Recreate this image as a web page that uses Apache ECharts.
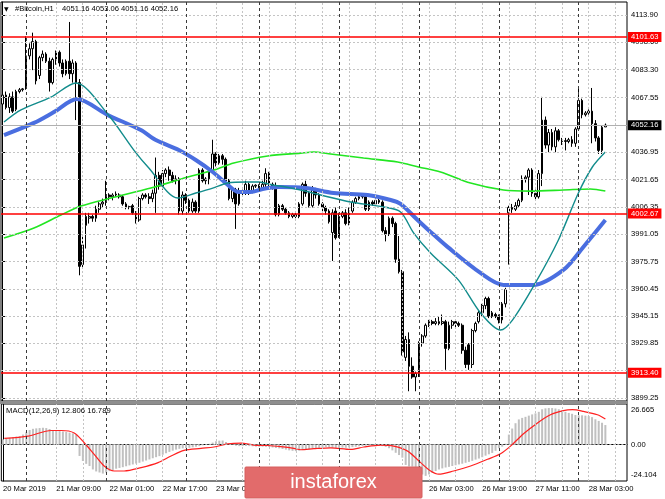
<!DOCTYPE html>
<html><head><meta charset="utf-8">
<script src="https://cdn.jsdelivr.net/npm/echarts@6/dist/echarts.min.js"></script>
<style>html,body{margin:0;padding:0;background:#fff}#c{width:665px;height:499px}</style>
</head><body><div id="c"></div>
<script>
// ---- DATA ----
// candles: [open, close, low, high]
const candles = [
[4064,4069,4060,4081],[4069,4062,4061,4071],[4062,4068,4059,4070],[4068,4060,4059,4071],[4061,4071,4060,4072],
[4071,4072,4070,4073],[4072,4072.5,4071,4073],[4073,4091,4072,4102],[4091,4095,4089,4098],[4095,4099,4083,4104],
[4099,4077,4075,4100],[4080,4090,4078,4091],[4090,4092,4088,4094],[4092,4088,4087,4093],[4088,4076,4071,4090],
[4076,4089,4075,4090],[4089,4093,4086,4094],[4093,4087,4085,4094],[4087,4081,4079,4089],[4081,4088,4080,4089],
[4088,4081,4078,4110],[4081,4087,4076,4089],[4087,4076,4055,4088],[4076,3973,3968,4078],[3974,3985,3972,3990],
[3996,4001,3983,4003],[4000,4001,3997,4003],[4001,4000,3998,4002],[4000,4005,3998,4007],[4005,4008,4003,4009],
[4008,4009,4006,4011],[4009,4013,4007,4021],[4013,4012,4010,4014],[4012,4013,4010,4014],[4013,4013.5,4012,4015],
[4013,4012,4011,4014],[4012,4008,4007,4013],[4008,4006,4005,4009],[4006,4006.5,4005,4007],[4007,4003,4002,4008],
[4003,3999,3997,4004],[3999,4011,3998,4012],[4011,4013,4010,4014],[4013,4012,4011,4014],[4012,4011,4008,4014],
[4011,4014,4009,4016],[4014,4024,4003,4034],[4024,4018,4016,4026],[4018,4025,4016,4027],[4025,4027,4023,4028],
[4027,4024,4021,4029],[4024,4021,4020,4026],[4021,4022,4019,4024],[4022,4004,4002,4023],[4004,4013,4002,4015],
[4013,4010,4008,4014],[4010,4004,4003,4011],[4004,4009,4003,4011],[4009,4004,4003,4010],[4004,4027,4003,4028],
[4027,4021,4020,4028],[4021,4022,4019,4023],[4022,4026,4019,4027],[4026,4036,4025,4044],[4036,4031,4029,4037],
[4031,4035,4030,4036],[4035,4033,4030,4036],[4033,4021,4020,4034],[4021,4011,4010,4022],[4011,4016,4009,4017],
[4016,4008,3994,4017],[4008,4015,4007,4017],[4015,4014,4012,4016],[4014,4019,4013,4021],[4019,4015,4013,4020],
[4015,4018,4014,4019],[4018,4018.5,4017,4019],[4018,4017,4016,4019],[4017,4019,4016,4021],[4019,4025,4016,4028],
[4025,4019,4017,4026],[4019,4018,4016,4020],[4018,4002,4001,4020],[4002,4007,4001,4008],[4007,4005,4004,4008],
[4005,4003,4002,4006],[4003,4001,4000,4004],[4001,4002,4000,4003],[4002,4001,4000,4003],[4001,4008,4000,4009],
[4008,4019,4007,4020],[4019,4014,4012,4021],[4014,4007,4006,4015],[4007,4016,4006,4018],[4016,4013,4011,4017],
[4013,4008,4007,4014],[4008,4006,4004,4009],[4006,4004,4002,4007],[4004,3998,3997,4005],[3992,4003,3976,4005],
[4004,3989,3988,4006],[3990,4001,3989,4003],[4001,4003,4000,4004],[4003,3997,3996,4005],[3997,4004,3996,4006],
[4004,4009,4003,4010],[4009,4011,4008,4012],[4011,4012,4010,4013],[4013,4012,4011,4014],[4012,4005,4004,4013],
[4005,4009,4004,4010],[4009,4008,4007,4010],[4008,4010,4007,4011],[4010,4009,4008,4011],[4009,3993,3992,4010],
[3993,3991,3987,3995],[3991,4000,3990,4001],[4000,3997,3995,4001],[3997,3977,3975,3998],[3977,3970,3969,3990],
[3970,3925,3923,3971],[3922,3932,3920,3934],[3932,3917,3903,3936],[3917,3911,3910,3922],[3911,3913,3903,3914],
[3913,3930,3911,3931],[3930,3934,3928,3935],[3934,3940,3933,3941],[3940,3942,3939,3943],[3942,3941,3940,3943],
[3941,3942,3940,3944],[3942,3941,3940,3945],[3941,3942,3940,3946],[3942,3927,3915,3943],[3927,3940,3926,3942],
[3940,3942,3938,3943],[3942,3941,3939,3943],[3941,3940,3939,3942],[3940,3926,3924,3941],[3926,3918,3916,3928],
[3929,3918,3915,3930],[3918,3937,3916,3938],[3937,3941,3936,3942],[3942,3947,3941,3948],[3947,3951,3945,3952],
[3951,3955,3949,3956],[3955,3945,3944,3956],[3945,3947,3944,3948],[3946,3945,3944,3947],[3945,3943,3941,3946],
[3943,3952,3941,3953],[3952,3960,3950,3961],[4003,4006,3974,4007],[4006,4005,4003,4008],[4005,4007,4004,4009],
[4007,4010,4006,4011],[4010,4022,4009,4024],[4022,4023,4020,4024],[4023,4027,4013,4028],[4027,4014,4012,4028],
[4014,4012,4010,4016],[4012,4025,4011,4027],[4025,4055,4018,4068],[4055,4041,4039,4057],[4041,4048,4037,4050],
[4048,4040,4038,4050],[4040,4049,4037,4051],[4049,4044,4043,4050],[4044,4043,4041,4045],[4043,4043.5,4038,4045],
[4043,4044,4042,4045],[4044,4042,4040,4046],[4042,4050,4040,4051],[4050,4066,4049,4074],[4066,4058,4056,4067],
[4058,4059,4057,4060],[4059,4060,4058,4061],[4060,4053,4042,4073],[4053,4045,4043,4055],[4045,4038,4036,4046],
[4038,4051,4036,4052],[4051.16,4052.16,4051.16,4053.06]
];
// moving averages: [bar index, price]
const tealMA = [[0.4,4053.9],[5.5,4060.7],[14.5,4067.9],[22,4075.8],[31.3,4059],[39.4,4038.2],[43.9,4028.1],[52.6,4011.3],[58,4014.1],[63.1,4016.9],[67.6,4019.7],[73,4020.3],[76.9,4020.3],[81.1,4018.6],[85,4017.5],[89.5,4015.8],[95.5,4013],[104.5,4009.1],[114.4,4006.3],[119.5,4003.5],[123.4,3991.8],[128.5,3980.5],[136.9,3965.3],[143.5,3946.9],[149.5,3937.3],[153.1,3942.9],[160,3963.7],[166.9,3987.8],[172.9,4014.1],[177.1,4028.7],[181,4037.1]];
const blueMA = [[0.4,4046.6],[9.4,4053.4],[15.4,4059.5],[22.3,4066.8],[31.6,4057.8],[41.5,4049.4],[46,4043.8],[52.9,4038.2],[58,4032.6],[63.1,4025.9],[67,4019.7],[70.9,4014.7],[74.5,4014.7],[78.1,4016.4],[82.9,4017.5],[91,4016.9],[99.4,4014.1],[109.6,4013],[116.5,4010.2],[119.5,4008],[124.6,3999],[128.5,3992.3],[133.6,3983.9],[143.5,3969.3],[150.4,3962.6],[159.4,3962.6],[168.4,3971],[174.4,3983.9],[181,3999]];
const greenMA = [[0.4,3988.9],[9.4,3994.5],[17.5,4001.8],[23.5,4006.8],[32.5,4011.3],[44.5,4016.9],[55.6,4023.1],[63.4,4027],[69.4,4030.9],[79.6,4034.9],[89.5,4036.5],[93.4,4037.1],[98.5,4036],[108.4,4033.7],[118.6,4031.5],[124.9,4028.7],[131.5,4025.9],[140.5,4019.7],[150.4,4015.8],[158.5,4015.2],[168.4,4015.8],[176.5,4016.4],[181,4015.2]];
const macdHist = [
3.3,3.8,4.3,4.8,5.2,5.5,6.5,8.0,9.5,10.3,
10.6,10.8,11.0,10.8,10.2,9.4,9.0,8.8,8.5,8.2,
7.8,7.3,6.5,-7.6,-10.9,-12.8,-14.2,-16.5,-17.8,-18.5,
-19.2,-18.5,-17.6,-16.8,-16.0,-15.5,-15.0,-14.4,-13.8,-13.2,
-12.6,-12.1,-11.3,-10.6,-9.9,-9.1,-8.4,-7.7,-6.8,-5.8,
-4.9,-4.1,-3.4,-2.9,-2.6,-2.4,-2.2,-1.9,-1.5,-1.1,
-0.6,-0.1,0.4,1.2,2.1,2.5,2.6,1.6,0.5,-0.3,
-0.8,-1.1,-1.1,-1.0,-1.1,-1.2,-1.4,-1.5,-1.5,-1.6,
-1.7,-2.0,-2.3,-2.6,-3.0,-3.4,-3.9,-4.2,-4.4,-4.1,
-3.7,-3.4,-3.1,-2.8,-2.6,-2.3,-2.0,-1.7,-2.0,-2.2,
-2.3,-2.2,-2.1,-2.2,-2.0,-1.8,-1.5,-1.2,-1.0,-0.8,
-0.6,-0.4,-0.5,-0.8,-1.1,-1.6,-2.5,-3.9,-5.5,-7.0,
-8.7,-13.5,-14.5,-14.6,-14.8,-18.5,-19.8,-20.7,-19.8,-18.8,
-17.5,-16.5,-15.8,-15.2,-14.8,-14.2,-13.7,-13.2,-12.7,-12.1,
-11.5,-10.8,-10.0,-9.3,-8.4,-7.4,-6.5,-5.6,-4.2,-2.5,
-1.5,0.5,6.5,10.5,14.0,16.5,17.5,18.2,19.0,19.8,
20.5,21.5,23.2,23.8,24.0,24.0,23.7,23.2,22.4,21.5,
20.8,20.2,19.4,19.2,19.2,19.0,18.7,18.0,16.6,15.5,
14.3,12.8
];
const macdSignal = [[0.4,4.0],[7.6,5.5],[14.5,9.2],[17.5,9.2],[21.4,7.6],[24.4,1.1],[27.4,-6.5],[30.4,-14.2],[33.4,-17.5],[36.4,-17.5],[41.5,-15.3],[46.6,-12],[50.5,-7.6],[54.4,-3.9],[59.5,-2.6],[63.4,-1.7],[67.6,0.4],[71.5,0.9],[75.4,-0.4],[79.6,-0.7],[83.5,-1.5],[87.4,-2.6],[89.5,-3.5],[93.4,-2.8],[98.5,-2.2],[104.5,-3.3],[108.4,-1.7],[113.5,-0.4],[117.4,-1.1],[121.6,-4.4],[125.5,-12],[128.5,-17.5],[130.9,-19.6],[135.4,-17.5],[140.5,-14.2],[145.6,-9.8],[149.5,-6.1],[152.5,-1.1],[156.4,7],[160.6,14.2],[164.5,19.6],[168.4,22.3],[171.1,22.9],[174.4,21.8],[178.6,19.6],[181,16.8]];
const priceGridValues = [4113.90,4098.60,4083.30,4067.55,4052.25,4036.95,4021.65,4006.35,3991.05,3975.75,3960.45,3945.15,3929.85,3914.55,3899.25];
const priceLabelValues = [4113.90,4098.60,4083.30,4067.55,4036.95,4021.65,4006.35,3991.05,3975.75,3960.45,3945.15,3929.85,3899.25];
const levelLines = [4101.63, 4002.67, 3913.40];
const lastPrice = 4052.16;
const macdTickValues = [26.665, 0, -24.104];
const macdTickLabels = ['26.665', '0.00', '-24.104'];
const macdParams = 'MACD(12,26,9)';
const macdLast = ['12.806', '16.789'];
const timeLabels = [[0,'20 Mar 2019'],[16,'21 Mar 09:00'],[32,'22 Mar 01:00'],[48,'22 Mar 17:00'],[64,'23 Mar 09:00'],[80,'24 Mar 03:00'],[96,'24 Mar 19:00'],[112,'25 Mar 11:00'],[128,'26 Mar 03:00'],[144,'26 Mar 19:00'],[160,'27 Mar 11:00'],[176,'28 Mar 03:00']];
const daySeparators = [7,31,55,77,101,125,149,173];
const timeGrid = [16,24,40,48,64,72,80,88,96,104,112,120,128,136,144,152,160,168,176,184];
const symbolName = '#Bitcoin,H1';
const NCAT = 188;

// hourly categories (two hours missing on 23 Mar)
const categories = [];
{ let d = 20, h = 17;
  for (let k = 0; k < NCAT; k++) {
    categories.push(d + ' Mar ' + String(h).padStart(2,'0') + ':00');
    h++; if (d === 23 && h === 20) h = 22; if (h === 24) { h = 0; d++; }
  } }
const labelMap = new Map(timeLabels);

const FONT = 'Liberation Sans';
const FS = 7.6;
const lightGrid = { color: '#c4c4c4', width: 1, type: [2, 2] };
const darkSep = { color: '#3a3a3a', width: 1, type: [3, 3] };

const chart = echarts.init(document.getElementById('c'), null, { renderer: 'canvas' });
const MAIN = { left: 1, top: 2, right: 38, height: 399 };
const SUB = { left: 1, top: 404, right: 38, height: 77 };

const vLinesMain = timeGrid.map(i => ({ xAxis: i, lineStyle: lightGrid }))
  .concat(daySeparators.map(i => ({ xAxis: i, lineStyle: darkSep })));
const hLinesMain = priceGridValues.map(v => ({ yAxis: v, lineStyle: lightGrid }));

const baseMark = { symbol: 'none', silent: true, animation: false, label: { show: false }, emphasis: { disabled: true } };

chart.setOption({
  animation: false,
  backgroundColor: '#ffffff',
  textStyle: { fontFamily: FONT },
  grid: [
    Object.assign({ show: true, borderColor: '#000', borderWidth: 1 }, MAIN),
    Object.assign({ show: true, borderColor: '#000', borderWidth: 1 }, SUB)
  ],
  xAxis: [
    { type: 'category', gridIndex: 0, data: categories, boundaryGap: true, axisLine: { show: false }, axisTick: { show: false }, axisLabel: { show: false }, splitLine: { show: false } },
    { type: 'category', gridIndex: 1, data: categories, boundaryGap: true,
      axisLine: { show: true, lineStyle: { color: '#000', width: 1 } }, axisTick: { show: false },
      axisLabel: { show: true, interval: (idx) => labelMap.has(idx), formatter: (v, idx) => labelMap.get(idx) || '', align: 'left', fontSize: FS, fontFamily: FONT, color: '#000', margin: 4 },
      splitLine: { show: false } },
    { type: 'value', gridIndex: 0, min: -0.5, max: NCAT - 0.5, show: false },
    { type: 'value', gridIndex: 1, min: -0.5, max: NCAT - 0.5, show: false }
  ],
  yAxis: [
    { type: 'value', gridIndex: 0, position: 'right', min: 3897.53, max: 4121.19,
      axisLine: { show: true, lineStyle: { color: '#000', width: 1 } },
      axisTick: { show: true, length: 3, customValues: priceLabelValues, lineStyle: { color: '#000' } },
      axisLabel: { show: true, customValues: priceLabelValues, formatter: v => Number(v).toFixed(2), fontSize: FS, fontFamily: FONT, color: '#000', margin: 4 },
      splitLine: { show: false } },
    { type: 'value', gridIndex: 1, position: 'right', min: -24.104, max: 26.665,
      axisLine: { show: true, lineStyle: { color: '#000', width: 1 } },
      axisTick: { show: false }, axisLabel: { show: false }, splitLine: { show: false } }
  ],
  series: [
    { name: 'gridMain', type: 'line', xAxisIndex: 2, yAxisIndex: 0, data: [], z: 1,
      markLine: Object.assign({}, baseMark, { data: hLinesMain.concat(vLinesMain) }) },
    { name: 'gridSub', type: 'line', xAxisIndex: 3, yAxisIndex: 1, data: [], z: 1,
      markLine: Object.assign({}, baseMark, { data: vLinesMain.concat([{ yAxis: 0, lineStyle: { color: '#b0b0b0', width: 1, type: [2, 2] } }]) }) },
    { name: 'MACD', type: 'bar', xAxisIndex: 1, yAxisIndex: 1, data: macdHist, barWidth: 2, z: 2,
      itemStyle: { color: '#c0c0c0' }, silent: true },
    { name: 'Signal', type: 'line', xAxisIndex: 3, yAxisIndex: 1, data: macdSignal, showSymbol: false, smooth: 0.3, z: 3,
      lineStyle: { color: '#ff2020', width: 1.2 }, silent: true },
    { name: 'lastLine', type: 'line', xAxisIndex: 2, yAxisIndex: 0, data: [], z: 2,
      markLine: Object.assign({}, baseMark, { data: [{ yAxis: lastPrice, lineStyle: { color: '#b0b0b0', width: 1, type: 'solid' },
        label: { show: true, position: 'end', distance: 1, formatter: lastPrice.toFixed(2), backgroundColor: '#000', color: '#fff', fontSize: FS, fontFamily: FONT, padding: [1, 3, 1, 3] } }] }) },
    { name: 'Bitcoin', type: 'candlestick', xAxisIndex: 0, yAxisIndex: 0, data: candles, barWidth: 2.2, z: 3, silent: true,
      itemStyle: { color: '#ffffff', color0: '#000000', borderColor: '#000000', borderColor0: '#000000', borderWidth: 1 } },
    { name: 'MA200', type: 'line', xAxisIndex: 2, yAxisIndex: 0, data: greenMA, showSymbol: false, smooth: 0.3, z: 4, silent: true,
      lineStyle: { color: '#22e622', width: 1.6 } },
    { name: 'MA50', type: 'line', xAxisIndex: 2, yAxisIndex: 0, data: blueMA, showSymbol: false, smooth: 0.3, z: 4, silent: true,
      lineStyle: { color: '#4a6ee0', width: 4 } },
    { name: 'MA21', type: 'line', xAxisIndex: 2, yAxisIndex: 0, data: tealMA, showSymbol: false, smooth: 0.3, z: 4, silent: true,
      lineStyle: { color: '#128c8c', width: 1.4 } },
    { name: 'levels', type: 'line', xAxisIndex: 2, yAxisIndex: 0, data: [], z: 5,
      markLine: Object.assign({}, baseMark, { data: levelLines.map(v => ({ yAxis: v, lineStyle: { color: '#ff0000', width: 1.6, type: 'solid' },
        label: { show: true, position: 'end', distance: 1, formatter: v.toFixed(2), backgroundColor: '#ff0000', color: '#fff', fontSize: FS, fontFamily: FONT, padding: [1, 3, 1, 3] } })) }) }
  ]
});

// graphics: header, MACD labels, separator, watermark
const last = candles[candles.length - 1];
const header = [last[0], last[3], last[2], last[1]].map(v => v.toFixed(2)).join(' ');
const g = [
  { type: 'rect', shape: { x: 0, y: 401, width: 628, height: 3 }, style: { fill: '#8e8e8e' }, z: 50, silent: true },
  { type: 'text', style: { text: '▼', x: 4, y: 9, fill: '#000', fontSize: 6, fontFamily: 'DejaVu Sans', verticalAlign: 'middle' }, z: 50, silent: true },
  { type: 'text', style: { text: symbolName, x: 15, y: 9, fill: '#000', fontSize: FS, fontFamily: FONT, verticalAlign: 'middle' }, z: 50, silent: true },
  { type: 'text', style: { text: header, x: 62, y: 9, fill: '#000', fontSize: FS, fontFamily: FONT, verticalAlign: 'middle' }, z: 50, silent: true },
  { type: 'text', style: { text: macdParams + ' ' + macdLast.join(' '), x: 6, y: 411, fill: '#000', fontSize: 7.7, fontFamily: FONT, verticalAlign: 'middle' }, z: 50, silent: true }
];
macdTickValues.forEach((v, k) => {
  let y = chart.convertToPixel({ yAxisIndex: 1 }, v);
  y = Math.min(Math.max(y, SUB.top + 6), SUB.top + SUB.height - 6);
  g.push({ type: 'text', style: { text: macdTickLabels[k], x: 631, y: y, fill: '#000', fontSize: FS, fontFamily: FONT, verticalAlign: 'middle' }, z: 50, silent: true });
});
g.push({ type: 'rect', shape: { x: 245, y: 467, width: 177, height: 31, r: 1 }, style: { fill: '#e26b6b', stroke: '#d65e5e', lineWidth: 1 }, z: 100, silent: true });
g.push({ type: 'text', style: { text: 'instaforex', x: 333.5, y: 482, fill: '#ffffff', fontSize: 20, fontFamily: FONT, align: 'center', verticalAlign: 'middle' }, z: 101, silent: true });
chart.setOption({ graphic: g });
</script>
</body></html>
